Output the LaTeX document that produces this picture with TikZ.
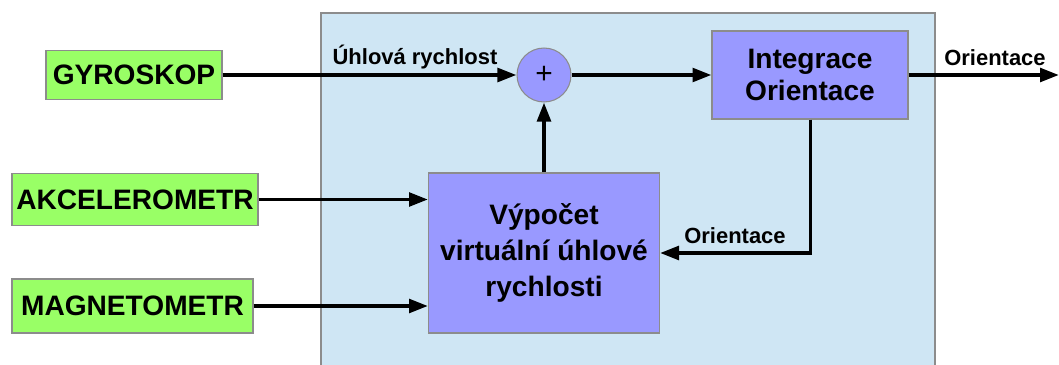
\documentclass[tikz,border=0pt]{standalone}
\usepackage{fontspec}
\setmainfont{Liberation Sans}
\usetikzlibrary{arrows.meta}
\definecolor{sensorgreen}{HTML}{99FF66}
\definecolor{blockblue}{HTML}{9999FF}
\definecolor{bgblue}{HTML}{CFE6F4}
\definecolor{edgegray}{HTML}{8C8C8C}
\tikzset{
  sensor/.style={rectangle, draw=edgegray, line width=0.6pt, fill=sensorgreen, inner sep=0pt,
    font=\fontsize{16}{19}\selectfont\bfseries},
  block/.style={rectangle, draw=edgegray, line width=0.6pt, fill=blockblue, inner sep=0pt, align=center},
  sumnode/.style={circle, draw=edgegray, line width=0.6pt, fill=blockblue, inner sep=0pt,
    minimum size=1.08cm, font=\fontsize{17}{19}\selectfont},
  lbl/.style={font=\fontsize{12.5}{15}\selectfont\bfseries},
  sig/.style={line width=2.2pt, -{Triangle[length=0.38cm, width=0.27cm]}}
}
\begin{document}
\begin{tikzpicture}[x=0.02cm, y=-0.02cm]
            \useasboundingbox (0,0) rectangle (1059,365);
            \fill[bgblue, draw=edgegray, line width=0.6pt] (321,13) rectangle (935,372);

            \node[sensor, minimum width=3.52cm, minimum height=0.98cm] (gyro) at (134,75) {GYROSKOP};
            \node[sensor, minimum width=4.92cm, minimum height=1.04cm] (akcel) at (135,199.5) {AKCELEROMETR};
            \node[sensor, minimum width=4.82cm, minimum height=1.08cm] (magnet) at (132.5,306) {MAGNETOMETR};

            \node[sumnode] (sum) at (544,75) {+};
            \node[block, minimum width=3.92cm, minimum height=1.76cm,
                  font=\fontsize{16}{18.7}\selectfont\bfseries] (integ) at (810,75) {Integrace\\Orientace};
            \node[block, minimum width=4.62cm, minimum height=3.2cm,
                  font=\fontsize{16}{20.5}\selectfont\bfseries] (vypocet) at (544,253) {Výpočet\\virtuální úhlové\\rychlosti};

            \coordinate (out) at (1059,75);
            \coordinate (corner) at (810.5,253);

            \draw[sig] (gyro.east) -- (sum.west);
            \draw[sig] (sum.east) -- (integ.west);
            \draw[sig] (integ.east) -- (out);
            \draw[sig] (vypocet.north) -- (sum.south);
            \draw[sig] (integ.south -| corner) -- (corner) -- (vypocet.east);
            \draw[sig] (akcel.east) -- (vypocet.west |- akcel.east);
            \draw[sig] (magnet.east) -- (vypocet.west |- magnet.east);

            \node[lbl] (lblrate) at (415,57) {Úhlová rychlost};
            \node[lbl] (lblout) at (995,58) {Orientace};
            \node[lbl] (lblback) at (735,236) {Orientace};
        \end{tikzpicture}
\end{document}
